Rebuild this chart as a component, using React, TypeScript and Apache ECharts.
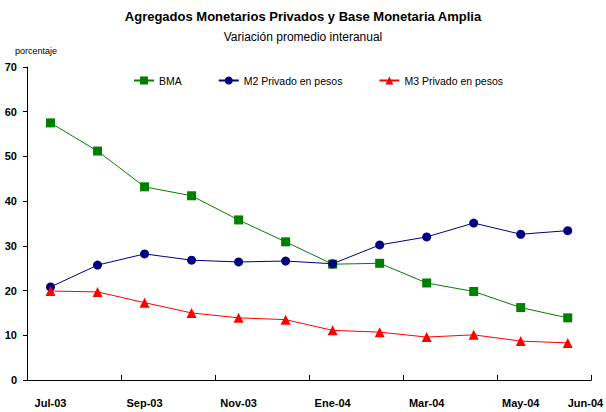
import React, { useEffect, useRef } from "react";
import * as echarts from "echarts";

const categories = ["Jul-03", "Ago-03", "Sep-03", "Oct-03", "Nov-03", "Dic-03", "Ene-04", "Feb-04", "Mar-04", "Abr-04", "May-04", "Jun-04"];
const bma = [57.5, 51.2, 43.2, 41.2, 35.8, 30.9, 25.9, 26.1, 21.7, 19.8, 16.2, 13.9];
const m2 = [20.8, 25.7, 28.2, 26.8, 26.4, 26.6, 26.0, 30.2, 32.0, 35.1, 32.6, 33.4];
const m3 = [19.9, 19.7, 17.3, 15.0, 13.9, 13.5, 11.1, 10.7, 9.6, 10.1, 8.7, 8.3];

const font = "'Liberation Sans', Arial, sans-serif";

export default function App() {
  const ref = useRef<HTMLDivElement>(null);
  useEffect(() => {
    if (!ref.current) return;
    const chart = echarts.init(ref.current, null, { renderer: "svg" });
    chart.setOption({
      animation: false,
      backgroundColor: "#ffffff",
      title: [
        { text: "Agregados Monetarios Privados y Base Monetaria Amplia", left: 298, top: 5, textAlign: "center", textStyle: { fontFamily: font, fontSize: 13, fontWeight: "bold", color: "#000" } },
        { text: "Variación promedio interanual", left: 298, top: 26, textAlign: "center", textStyle: { fontFamily: font, fontSize: 12, fontWeight: "normal", color: "#000" } },
        { text: "porcentaje", left: 10, top: 41, textStyle: { fontFamily: font, fontSize: 9, fontWeight: "normal", color: "#000" } },
      ],
      legend: {
        left: 128,
        top: 70,
        itemGap: 36,
        itemWidth: 20,
        itemHeight: 10,
        textStyle: { fontFamily: font, fontSize: 10.5, color: "#000" },
        data: ["BMA", "M2 Privado en pesos", "M3 Privado en pesos"],
      },
      grid: { left: 27, right: 10, top: 67, bottom: 32, containLabel: false },
      xAxis: {
        type: "category",
        data: categories,
        boundaryGap: true,
        axisLine: { lineStyle: { color: "#000", width: 1 } },
        axisTick: { show: true, inside: true, length: 5, interval: 1, lineStyle: { color: "#000", width: 1 } },
        axisLabel: {
          interval: (i: number) => i % 2 === 0 || i === categories.length - 1,
          margin: 17,
          fontFamily: font,
          fontSize: 11,
          fontWeight: "bold",
          color: "#000",
          alignMaxLabel: "left",
        },
        splitLine: { show: false },
      },
      yAxis: {
        type: "value",
        min: 0,
        max: 70,
        interval: 10,
        axisLine: { show: true, lineStyle: { color: "#000", width: 1 } },
        axisTick: { show: true, inside: false, length: 4, lineStyle: { color: "#000" } },
        axisLabel: { margin: 10, fontFamily: font, fontSize: 11, fontWeight: "bold", color: "#000" },
        splitLine: { show: false },
      },
      series: [
        {
          name: "BMA",
          type: "line",
          data: bma,
          symbol: "rect",
          symbolSize: 9,
          color: "#008000",
          lineStyle: { width: 1, color: "#008000" },
          itemStyle: { color: "#008000" },
        },
        {
          name: "M2 Privado en pesos",
          type: "line",
          data: m2,
          symbol: "circle",
          symbolSize: 9,
          color: "#000080",
          lineStyle: { width: 1, color: "#000080" },
          itemStyle: { color: "#000080" },
        },
        {
          name: "M3 Privado en pesos",
          type: "line",
          data: m3,
          symbol: "triangle",
          symbolSize: 10,
          color: "#ff0000",
          lineStyle: { width: 1, color: "#ff0000" },
          itemStyle: { color: "#ff0000" },
        },
      ],
    });
    return () => chart.dispose();
  }, []);
  return <div ref={ref} style={{ width: 606, height: 412, position: "absolute", left: 0, top: 0 }} />;
}
